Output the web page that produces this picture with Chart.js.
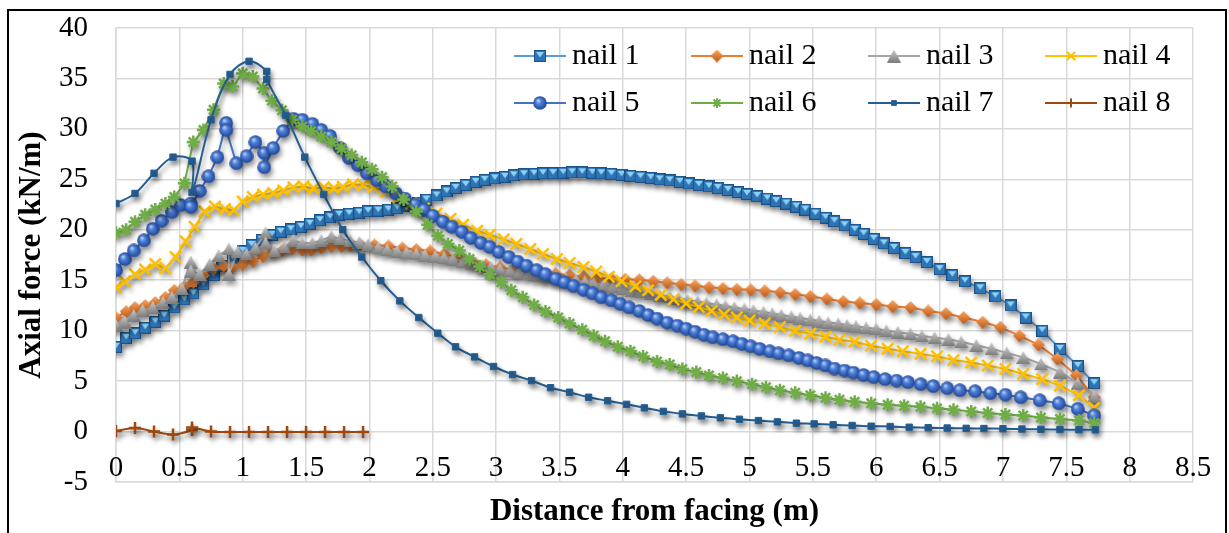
<!DOCTYPE html>
<html>
<head>
<meta charset="utf-8">
<title>Axial force along nails</title>
<script src="https://cdn.jsdelivr.net/npm/chart.js@4.4.1/dist/chart.umd.min.js"></script>
<style>
  html, body { margin: 0; padding: 0; background: #fff; }
  #wrap { position: relative; width: 1229px; height: 533px; }
</style>
</head>
<body>
<div id="wrap"><canvas id="forceChart" width="1229" height="533"></canvas></div>
<script>
// Axial force (kN/m) against distance from facing (m), one series per nail row.
const nail1X = [0, 0.08, 0.15, 0.23, 0.31, 0.38, 0.46, 0.54, 0.61, 0.69,
  0.77, 0.84, 0.92, 1.0, 1.07, 1.15, 1.23, 1.3, 1.38, 1.46,
  1.53, 1.61, 1.69, 1.76, 1.84, 1.92, 1.99, 2.07, 2.15, 2.22,
  2.3, 2.38, 2.45, 2.53, 2.61, 2.68, 2.76, 2.84, 2.91, 2.99,
  3.07, 3.14, 3.22, 3.3, 3.37, 3.45, 3.53, 3.6, 3.68, 3.76,
  3.83, 3.91, 3.99, 4.06, 4.14, 4.22, 4.29, 4.37, 4.45, 4.52,
  4.6, 4.68, 4.75, 4.83, 4.91, 4.98, 5.06, 5.14, 5.21, 5.29,
  5.37, 5.44, 5.52, 5.6, 5.67, 5.75, 5.83, 5.9, 5.98, 6.06,
  6.14, 6.23, 6.31, 6.4, 6.5, 6.6, 6.7, 6.82, 6.94, 7.06,
  7.18, 7.31, 7.45, 7.59, 7.72];
const nail1Y = [8.4, 9.3, 9.75, 10.3, 10.9, 11.5, 12.3, 13.1, 13.7, 14.6,
  15.5, 16.4, 17.2, 17.9, 18.5, 19.0, 19.5, 19.8, 20.05, 20.3,
  20.6, 20.95, 21.25, 21.5, 21.6, 21.7, 21.85, 21.9, 22.0, 22.15,
  22.4, 22.7, 23.0, 23.4, 23.8, 24.15, 24.45, 24.75, 24.95, 25.1,
  25.25, 25.4, 25.5, 25.55, 25.6, 25.62, 25.65, 25.7, 25.7, 25.65,
  25.6, 25.55, 25.45, 25.35, 25.25, 25.15, 25.0, 24.9, 24.75, 24.6,
  24.45, 24.3, 24.15, 23.95, 23.75, 23.55, 23.35, 23.1, 22.85, 22.6,
  22.3, 22.0, 21.6, 21.2, 20.85, 20.45, 20.0, 19.6, 19.1, 18.65,
  18.2, 17.7, 17.3, 16.8, 16.1, 15.5, 14.9, 14.2, 13.4, 12.5,
  11.3, 10.0, 8.2, 6.5, 4.8];

const nail2X = [0, 0.08, 0.15, 0.23, 0.31, 0.39, 0.46, 0.54, 0.61, 0.69,
  0.77, 0.85, 0.92, 1.0, 1.08, 1.16, 1.23, 1.31, 1.39, 1.47,
  1.54, 1.62, 1.7, 1.78, 1.85, 1.93, 2.04, 2.15, 2.26, 2.37,
  2.48, 2.59, 2.7, 2.81, 2.92, 3.03, 3.14, 3.25, 3.36, 3.47,
  3.58, 3.69, 3.8, 3.91, 4.02, 4.13, 4.24, 4.35, 4.46, 4.57,
  4.68, 4.79, 4.9, 5.01, 5.12, 5.24, 5.36, 5.48, 5.61, 5.74,
  5.87, 6.0, 6.13, 6.27, 6.41, 6.55, 6.69, 6.84, 6.98, 7.13,
  7.28, 7.43, 7.58, 7.72];
const nail2Y = [11.3, 11.9, 12.3, 12.5, 12.8, 13.3, 14.0, 14.4, 14.8, 15.5,
  16.2, 16.4, 16.3, 16.6, 16.9, 17.4, 17.7, 17.95, 18.1, 18.0,
  18.0, 18.2, 18.35, 18.35, 18.4, 18.5, 18.5, 18.4, 18.2, 18.05,
  17.9, 17.6, 17.25, 16.9, 16.55, 16.25, 16.05, 15.9, 15.75, 15.65,
  15.5, 15.35, 15.2, 15.15, 15.1, 15.05, 14.9, 14.75, 14.6, 14.45,
  14.3, 14.2, 14.1, 14.05, 13.95, 13.8, 13.6, 13.4, 13.15, 12.9,
  12.75, 12.6, 12.4, 12.3, 11.95, 11.7, 11.3, 10.85, 10.35, 9.5,
  8.6, 7.2, 5.55, 3.4];

const nail3X = [0, 0.07, 0.14, 0.21, 0.29, 0.37, 0.44, 0.52, 0.59, 0.59,
  0.66, 0.74, 0.81, 0.89, 0.89, 0.96, 1.03, 1.1, 1.18, 1.18,
  1.25, 1.33, 1.4, 1.47, 1.55, 1.62, 1.7, 1.77, 1.85, 1.92,
  1.99, 2.07, 2.14, 2.22, 2.29, 2.37, 2.44, 2.52, 2.59, 2.66,
  2.74, 2.81, 2.89, 2.96, 3.03, 3.11, 3.18, 3.26, 3.33, 3.4,
  3.48, 3.55, 3.63, 3.7, 3.77, 3.85, 3.92, 4.0, 4.07, 4.14,
  4.22, 4.29, 4.37, 4.44, 4.51, 4.59, 4.66, 4.74, 4.81, 4.88,
  4.96, 5.03, 5.11, 5.18, 5.25, 5.33, 5.4, 5.48, 5.55, 5.62,
  5.7, 5.77, 5.84, 5.92, 6.0, 6.08, 6.17, 6.27, 6.36, 6.46,
  6.57, 6.67, 6.79, 6.91, 7.03, 7.16, 7.3, 7.45, 7.59, 7.72];
const nail3Y = [10.5, 10.85, 11.5, 12.0, 12.3, 12.8, 13.3, 14.15, 16.8, 15.9,
  15.6, 16.6, 17.45, 18.1, 15.6, 17.8, 17.6, 18.2, 19.7, 18.7,
  17.95, 18.3, 18.95, 18.7, 18.7, 18.95, 19.35, 19.1, 18.9, 18.75,
  18.55, 18.2, 18.0, 17.85, 17.7, 17.6, 17.45, 17.35, 17.25, 17.1,
  16.9, 16.7, 16.5, 16.3, 16.1, 15.95, 15.8, 15.65, 15.5, 15.4,
  15.25, 15.15, 15.0, 14.85, 14.7, 14.5, 14.35, 14.15, 14.0, 13.85,
  13.65, 13.5, 13.35, 13.2, 13.05, 12.9, 12.75, 12.6, 12.45, 12.3,
  12.15, 12.0, 11.85, 11.7, 11.55, 11.4, 11.25, 11.1, 10.95, 10.8,
  10.7, 10.55, 10.45, 10.3, 10.2, 10.0, 9.85, 9.7, 9.5, 9.3,
  9.15, 8.9, 8.55, 8.2, 7.8, 7.35, 6.7, 5.9, 4.8, 3.5];

const nail4X = [0, 0.07, 0.15, 0.23, 0.31, 0.39, 0.47, 0.55, 0.62, 0.7,
  0.78, 0.86, 0.93, 1.0, 1.08, 1.16, 1.24, 1.32, 1.4, 1.48,
  1.56, 1.64, 1.72, 1.79, 1.87, 1.95, 2.03, 2.13, 2.23, 2.33,
  2.43, 2.53, 2.64, 2.74, 2.85, 2.95, 3.06, 3.16, 3.27, 3.37,
  3.48, 3.58, 3.69, 3.79, 3.89, 3.99, 4.1, 4.2, 4.3, 4.4,
  4.5, 4.6, 4.7, 4.8, 4.9, 5.0, 5.12, 5.24, 5.36, 5.48,
  5.6, 5.71, 5.83, 5.96, 6.09, 6.21, 6.35, 6.48, 6.61, 6.75,
  6.88, 7.02, 7.16, 7.31, 7.45, 7.6, 7.72];
const nail4Y = [14.3, 14.9, 15.6, 16.05, 16.6, 16.2, 17.3, 18.85, 20.3, 21.8,
  22.3, 22.05, 21.95, 22.8, 23.25, 23.5, 23.65, 23.9, 24.2, 24.3,
  24.1, 24.2, 24.1, 24.25, 24.5, 24.45, 24.2, 23.8, 23.2, 22.6,
  22.1, 21.6, 21.1, 20.5, 19.9, 19.5, 19.05, 18.6, 18.1, 17.6,
  17.1, 16.7, 16.3, 15.85, 15.35, 14.9, 14.4, 14.0, 13.55, 13.1,
  12.7, 12.35, 11.95, 11.6, 11.3, 11.0, 10.7, 10.35, 10.0, 9.7,
  9.4, 9.1, 8.9, 8.5, 8.2, 7.95, 7.7, 7.45, 7.1, 6.85,
  6.55, 6.2, 5.7, 5.2, 4.55, 3.6, 2.35];

const nail5X = [0, 0.07, 0.14, 0.22, 0.29, 0.36, 0.44, 0.51, 0.59, 0.59,
  0.66, 0.73, 0.8, 0.87, 0.87, 0.95, 1.03, 1.1, 1.17, 1.17,
  1.24, 1.32, 1.4, 1.47, 1.55, 1.62, 1.69, 1.77, 1.84, 1.91,
  1.98, 2.06, 2.13, 2.21, 2.28, 2.36, 2.43, 2.5, 2.58, 2.65,
  2.73, 2.8, 2.88, 2.95, 3.02, 3.1, 3.17, 3.24, 3.32, 3.39,
  3.47, 3.54, 3.61, 3.69, 3.76, 3.83, 3.91, 3.98, 4.05, 4.13,
  4.2, 4.27, 4.35, 4.43, 4.5, 4.57, 4.64, 4.71, 4.79, 4.87,
  4.94, 5.01, 5.08, 5.16, 5.23, 5.31, 5.39, 5.46, 5.53, 5.6,
  5.67, 5.75, 5.82, 5.9, 5.98, 6.07, 6.16, 6.25, 6.35, 6.45,
  6.56, 6.66, 6.78, 6.9, 7.02, 7.14, 7.29, 7.44, 7.59, 7.72];
const nail5Y = [16.0, 17.1, 17.95, 18.95, 20.1, 20.9, 21.75, 22.45, 22.6, 22.3,
  23.85, 25.3, 27.2, 30.6, 29.9, 26.6, 27.3, 28.7, 27.6, 26.2,
  28.1, 29.8, 31.0, 30.9, 30.5, 29.9, 29.3, 28.1, 27.1, 26.4,
  25.6, 24.9, 24.3, 23.6, 23.1, 22.5, 22.0, 21.4, 20.8, 20.3,
  19.8, 19.2, 18.7, 18.3, 17.8, 17.3, 16.85, 16.45, 16.0, 15.6,
  15.15, 14.8, 14.45, 14.05, 13.7, 13.3, 13.0, 12.65, 12.3, 11.95,
  11.55, 11.2, 10.8, 10.5, 10.2, 9.9, 9.6, 9.35, 9.15, 8.95,
  8.7, 8.45, 8.2, 7.95, 7.75, 7.55, 7.3, 7.05, 6.8, 6.55,
  6.25, 6.05, 5.85, 5.6, 5.4, 5.2, 5.05, 4.9, 4.7, 4.5,
  4.3, 4.1, 4.0, 3.8, 3.65, 3.4, 3.1, 2.8, 2.25, 1.6];

const nail6X = [0, 0.08, 0.15, 0.23, 0.31, 0.39, 0.46, 0.54, 0.61, 0.69,
  0.77, 0.85, 0.92, 1.0, 1.08, 1.16, 1.23, 1.31, 1.39, 1.47,
  1.54, 1.62, 1.7, 1.78, 1.86, 1.94, 2.02, 2.1, 2.18, 2.27,
  2.37, 2.46, 2.54, 2.62, 2.71, 2.79, 2.87, 2.95, 3.04, 3.12,
  3.21, 3.3, 3.39, 3.49, 3.58, 3.68, 3.77, 3.86, 3.96, 4.06,
  4.16, 4.27, 4.37, 4.47, 4.58, 4.68, 4.79, 4.9, 5.02, 5.13,
  5.24, 5.36, 5.48, 5.6, 5.71, 5.83, 5.96, 6.09, 6.22, 6.35,
  6.48, 6.61, 6.75, 6.88, 7.02, 7.16, 7.3, 7.45, 7.6, 7.72];
const nail6Y = [19.7, 20.0, 20.8, 21.5, 22.0, 22.6, 23.25, 24.6, 28.7, 29.9,
  31.9, 34.5, 34.2, 35.5, 35.2, 34.0, 32.8, 31.85, 30.9, 30.25,
  29.8, 29.25, 28.7, 28.05, 27.4, 26.7, 26.0, 25.2, 24.3, 23.0,
  21.8, 20.5, 19.4, 18.6, 17.95, 17.1, 16.35, 15.6, 14.8, 14.0,
  13.3, 12.55, 11.9, 11.3, 10.7, 10.1, 9.5, 8.95, 8.4, 7.95,
  7.45, 6.95, 6.65, 6.2, 5.9, 5.55, 5.3, 5.0, 4.7, 4.4,
  4.1, 3.85, 3.6, 3.35, 3.15, 2.95, 2.8, 2.65, 2.55, 2.45,
  2.3, 2.15, 2.0, 1.85, 1.7, 1.6, 1.4, 1.25, 1.1, 0.85];

const nail7X = [0, 0.15, 0.3, 0.45, 0.6, 0.6, 0.75, 0.9, 1.05, 1.19,
  1.19, 1.34, 1.49, 1.64, 1.79, 1.94, 2.09, 2.24, 2.39, 2.54,
  2.68, 2.83, 2.98, 3.13, 3.28, 3.43, 3.58, 3.73, 3.88, 4.03,
  4.17, 4.32, 4.47, 4.62, 4.77, 4.92, 5.07, 5.22, 5.37, 5.51,
  5.66, 5.81, 5.96, 6.11, 6.26, 6.41, 6.56, 6.71, 6.85, 7.0,
  7.15, 7.3, 7.45, 7.6, 7.73];
const nail7Y = [22.6, 23.6, 25.6, 27.2, 26.8, 23.7, 30.9, 35.4, 36.7, 35.7,
  34.9, 31.35, 27.2, 23.5, 20.0, 17.3, 14.95, 12.95, 11.3, 9.75,
  8.4, 7.4, 6.45, 5.65, 5.05, 4.35, 3.9, 3.4, 3.05, 2.7,
  2.35, 2.0, 1.75, 1.55, 1.36, 1.22, 1.09, 0.96, 0.83, 0.76,
  0.67, 0.6, 0.53, 0.5, 0.43, 0.38, 0.35, 0.32, 0.3, 0.28,
  0.25, 0.22, 0.2, 0.18, 0.17];

const nail8X = [0, 0.15, 0.3, 0.45, 0.6, 0.6, 0.75, 0.9, 1.05, 1.2, 1.35, 1.5, 1.65, 1.8, 1.95];
const nail8Y = [0.05, 0.35, 0.0, -0.3, 0.15, 0.4, 0.0, -0.05, -0.05, -0.05, -0.05, -0.05, -0.05, -0.05, -0.05];

const xTicks = { min: 0, max: 8.5, step: 0.5 };
const yTicks = { min: -5, max: 40, step: 5 };

const SERIF = '"Liberation Serif", "Times New Roman", serif';
const GRID = '#d9d9d9';

// small bevelled marker bitmaps, used as point styles
function markerCanvas(w, h, paint) {
  const c = document.createElement('canvas');
  c.width = w;
  c.height = h;
  paint(c.getContext('2d'), w, h);
  return c;
}

const squareMark = markerCanvas(12, 12, (g) => {
  g.fillStyle = '#2f74b5';
  g.fillRect(0, 0, 12, 12);
  g.strokeStyle = '#1c5288';
  g.lineWidth = 1;
  g.strokeRect(0.5, 0.5, 11, 11);
  g.fillStyle = '#8ad3f6';
  g.beginPath();
  g.moveTo(2, 2); g.lineTo(10, 2); g.lineTo(6, 7.5); g.closePath();
  g.fill();
});

const diamondMark = markerCanvas(13, 13, (g) => {
  const grad = g.createLinearGradient(0, 0, 0, 13);
  grad.addColorStop(0, '#f7a766');
  grad.addColorStop(1, '#c0560f');
  g.fillStyle = grad;
  g.beginPath();
  g.moveTo(6.5, 0); g.lineTo(13, 6.5); g.lineTo(6.5, 13); g.lineTo(0, 6.5); g.closePath();
  g.fill();
});

const triangleMark = markerCanvas(14, 13, (g) => {
  const grad = g.createLinearGradient(0, 0, 0, 13);
  grad.addColorStop(0, '#cdcdcd');
  grad.addColorStop(1, '#7c7c7c');
  g.fillStyle = grad;
  g.beginPath();
  g.moveTo(7, 0); g.lineTo(14, 13); g.lineTo(0, 13); g.closePath();
  g.fill();
});

const sphereMark = markerCanvas(14, 14, (g) => {
  const grad = g.createRadialGradient(5, 4.5, 0.5, 7, 7, 7);
  grad.addColorStop(0, '#b3ccf6');
  grad.addColorStop(0.35, '#4f80d8');
  grad.addColorStop(1, '#1d4596');
  g.fillStyle = grad;
  g.beginPath();
  g.arc(7, 7, 6.8, 0, Math.PI * 2);
  g.fill();
});

const nails = [
  { label: 'nail 1', xs: nail1X, ys: nail1Y, color: '#5b9bd5', style: squareMark, radius: 6, width: 1, tension: 0 },
  { label: 'nail 2', xs: nail2X, ys: nail2Y, color: '#ed7d31', style: diamondMark, radius: 6, width: 1, tension: 0 },
  { label: 'nail 3', xs: nail3X, ys: nail3Y, color: '#a5a5a5', style: triangleMark, radius: 6, width: 1, tension: 0 },
  { label: 'nail 4', xs: nail4X, ys: nail4Y, color: '#ffc000', style: 'crossRot', radius: 8, width: 2.5, tension: 0 },
  { label: 'nail 5', xs: nail5X, ys: nail5Y, color: '#4472c4', style: sphereMark, radius: 7, width: 1, tension: 0 },
  { label: 'nail 6', xs: nail6X, ys: nail6Y, color: '#70ad47', style: 'star', radius: 6.5, width: 2.5, tension: 0 },
  { label: 'nail 7', xs: nail7X, ys: nail7Y, color: '#255e91', style: 'rect', radius: 4.5, width: 1, tension: 0.35 },
  { label: 'nail 8', xs: nail8X, ys: nail8Y, color: '#9e480e', style: 'cross', radius: 6, width: 2.5, tension: 0.35 }
];

const datasets = nails.map((n, i) => ({
  label: n.label,
  data: n.xs.map((x, k) => ({ x: x, y: n.ys[k] })),
  borderColor: n.color,
  backgroundColor: n.color,
  borderWidth: 2,
  tension: n.tension,
  pointStyle: n.style,
  pointRadius: n.radius,
  pointBackgroundColor: n.color,
  pointBorderColor: n.color,
  pointBorderWidth: n.width,
  order: nails.length - i
}));

// soft drop shadow under lines and markers
const shadowPlugin = {
  id: 'seriesShadow',
  beforeDatasetsDraw(chart) {
    const ctx = chart.ctx;
    ctx.save();
    ctx.shadowColor = 'rgba(0, 0, 0, 0.4)';
    ctx.shadowBlur = 5;
    ctx.shadowOffsetX = 2;
    ctx.shadowOffsetY = 4;
  },
  afterDatasetsDraw(chart) {
    chart.ctx.restore();
  }
};

// distance labels sit just under the zero line, inside the plot
const xLabelPlugin = {
  id: 'xTickLabels',
  afterDraw(chart) {
    const sx = chart.scales.x;
    const y = chart.scales.y.getPixelForValue(0) + 37;
    const ctx = chart.ctx;
    ctx.save();
    ctx.font = '29px ' + SERIF;
    ctx.fillStyle = '#000';
    ctx.textAlign = 'center';
    ctx.textBaseline = 'middle';
    sx.ticks.forEach((t) => {
      ctx.fillText(String(t.label), sx.getPixelForValue(t.value), y);
    });
    ctx.restore();
  }
};

// two-row legend sitting inside the plot, top right
const legendPlugin = {
  id: 'nailLegend',
  afterDraw(chart) {
    const ctx = chart.ctx;
    const left = chart.chartArea.left + 398;
    const top = chart.chartArea.top + 28;
    ctx.save();
    ctx.font = '30px ' + SERIF;
    ctx.textBaseline = 'middle';
    ctx.textAlign = 'left';
    chart.data.datasets.forEach((ds, i) => {
      const x = left + (i % 4) * 177;
      const y = top + Math.floor(i / 4) * 47;
      ctx.strokeStyle = ds.borderColor;
      ctx.lineWidth = 2;
      ctx.beginPath();
      ctx.moveTo(x, y);
      ctx.lineTo(x + 52, y);
      ctx.stroke();
      ctx.fillStyle = ds.pointBackgroundColor;
      ctx.strokeStyle = ds.pointBorderColor;
      ctx.lineWidth = Math.min(ds.pointBorderWidth, 2);
      Chart.helpers.drawPoint(ctx, {
        pointStyle: ds.pointStyle,
        radius: ds.pointRadius * 0.75,
        borderWidth: Math.min(ds.pointBorderWidth, 2),
        rotation: 0
      }, x + 26, y);
      ctx.fillStyle = '#000';
      ctx.fillText(ds.label, x + 58, y);
    });
    ctx.restore();
  }
};

// black border around the figure
const framePlugin = {
  id: 'figureFrame',
  afterDraw(chart) {
    const ctx = chart.ctx;
    ctx.save();
    ctx.strokeStyle = '#000';
    ctx.lineWidth = 2;
    ctx.strokeRect(8, 10, 1218, 600);
    ctx.restore();
  }
};

new Chart(document.getElementById('forceChart'), {
  type: 'line',
  data: { datasets: datasets },
  options: {
    responsive: false,
    animation: false,
    events: [],
    layout: { padding: { top: 28, right: 36, left: 0, bottom: 0 } },
    plugins: {
      legend: { display: false },
      tooltip: { enabled: false }
    },
    scales: {
      x: {
        type: 'linear',
        min: xTicks.min,
        max: xTicks.max,
        ticks: {
          stepSize: xTicks.step,
          display: false,
          maxRotation: 0,
          autoSkip: false,
          callback: (v) => String(Number(v.toFixed(2)))
        },
        grid: { color: GRID, lineWidth: 1.5, drawTicks: false },
        border: { color: GRID, width: 1.5 },
        title: {
          display: true,
          text: 'Distance from facing (m)',
          color: '#000',
          font: { family: SERIF, size: 31, weight: 'bold' },
          padding: { top: 0, bottom: 2 }
        },
        afterFit(scale) {
          scale.height = 51;
          scale.paddingLeft = 0;
          scale.paddingRight = 0;
        }
      },
      y: {
        min: yTicks.min,
        max: yTicks.max,
        ticks: {
          stepSize: yTicks.step,
          padding: 28,
          color: '#000',
          font: { family: SERIF, size: 29 }
        },
        grid: { color: GRID, lineWidth: 1.5, drawTicks: false },
        border: { color: GRID, width: 1.5 },
        title: {
          display: true,
          text: 'Axial force (kN/m)',
          color: '#000',
          font: { family: SERIF, size: 31, weight: 'bold' },
          padding: { top: 13, bottom: 0 }
        },
        afterFit(scale) {
          scale.width = 116;
          scale.paddingTop = 0;
          scale.paddingBottom = 0;
        }
      }
    }
  },
  plugins: [shadowPlugin, xLabelPlugin, legendPlugin, framePlugin]
});
</script>
</body>
</html>
